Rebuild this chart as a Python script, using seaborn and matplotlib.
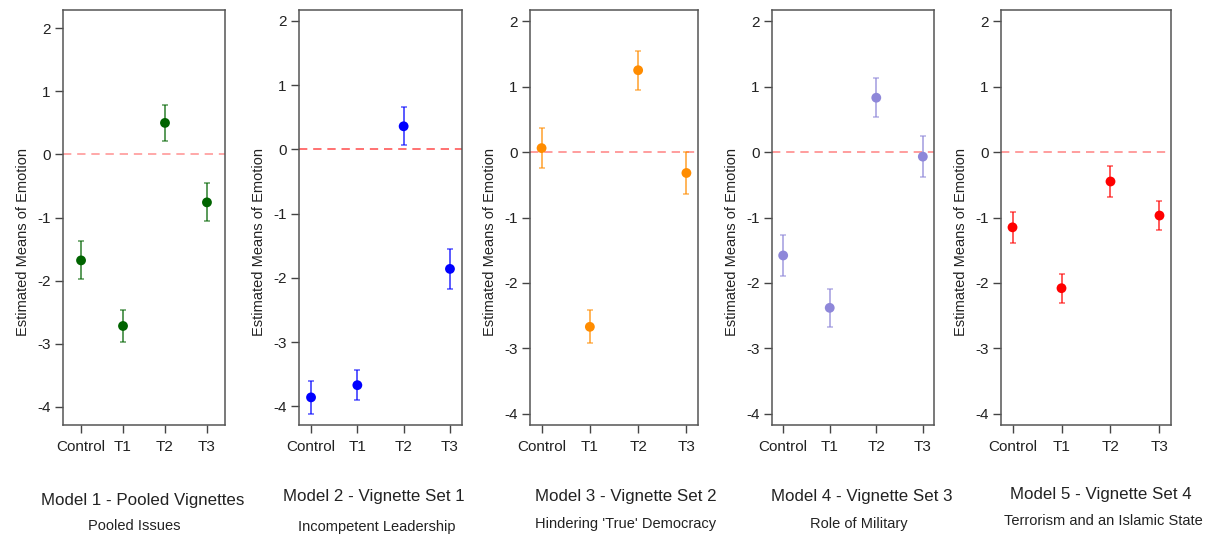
import numpy as np
import matplotlib
matplotlib.use("Agg")
import matplotlib.pyplot as plt
import seaborn as sns


conditions = ["Control", "T1", "T2", "T3"]

titles = ["Model 1 - Pooled Vignettes", "Model 2 - Vignette Set 1",
          "Model 3 - Vignette Set 2", "Model 4 - Vignette Set 3",
          "Model 5 - Vignette Set 4"]
subtitles = ["Pooled Issues", "Incompetent Leadership",
             "Hindering 'True' Democracy", "Role of Military",
             "Terrorism and an Islamic State"]

# estimated means and CI bounds
m1_mean = [-1.68, -2.72, 0.50, -0.76]
m1_low = [-1.98, -2.97, 0.21, -1.06]
m1_high = [-1.38, -2.46, 0.79, -0.45]

m2_mean = [-3.86, -3.67, 0.36, -1.86]
m2_low = [-4.12, -3.90, 0.07, -2.18]
m2_high = [-3.60, -3.43, 0.66, -1.55]

m3_mean = [0.06, -2.67, 1.25, -0.32]
m3_low = [-0.24, -2.92, 0.95, -0.64]
m3_high = [0.36, -2.42, 1.54, 0.00]

m4_mean = [-1.58, -2.38, 0.83, -0.07]
m4_low = [-1.89, -2.67, 0.53, -0.38]
m4_high = [-1.27, -2.09, 1.13, 0.25]

m5_mean = [-1.15, -2.08, -0.45, -0.97]
m5_low = [-1.39, -2.30, -0.69, -1.19]
m5_high = [-0.91, -1.86, -0.21, -0.75]

colors = ["#006400", "#0000FF", "#FF8C00", "#8E87D9", "#FF0000"]

models = [(m1_mean, m1_low, m1_high), (m2_mean, m2_low, m2_high),
          (m3_mean, m3_low, m3_high), (m4_mean, m4_low, m4_high),
          (m5_mean, m5_low, m5_high)]

W, H = 1213, 536
# axes boxes in pixels: left, right, top, bottom
boxes = [(63, 225, 10, 425), (299, 462, 10, 425), (530, 698, 10, 425),
         (772, 934, 10, 425), (1001, 1171, 10, 425)]
ylims = [(-4.29, 2.29), (-4.29, 2.17), (-4.17, 2.17), (-4.17, 2.17), (-4.17, 2.17)]
xpads = [0.43, 0.26, 0.24, 0.24, 0.235]
zero_alpha = [0.4, 0.65, 0.45, 0.45, 0.45]

title_pos = [(143, 500), (374, 497), (626, 497), (862, 497), (1101, 495)]
sub_pos = [(134, 526), (377, 527), (626, 524), (859, 524), (1103, 521)]

sns.set_style("white")
plt.rcParams['font.family'] = ['Liberation Sans', 'DejaVu Sans']

fig = plt.figure(figsize=(W / 100, H / 100), dpi=100)

for i, (mean, low, high) in enumerate(models):
    l, r, t, b = boxes[i]
    ax = fig.add_axes([l / W, 1 - b / H, (r - l) / W, (b - t) / H])
    mean = np.array(mean)
    yerr = np.vstack([mean - np.array(low), np.array(high) - mean])
    xs = np.arange(len(conditions))

    ax.axhline(0, color="red", alpha=zero_alpha[i], lw=1.2, ls=(0, (5, 3.5)), zorder=1)
    ax.errorbar(xs, mean, yerr=yerr, fmt="none", ecolor=colors[i], alpha=0.65,
                elinewidth=1.4, capsize=2.5, capthick=1.1, zorder=2)
    sns.scatterplot(x=xs, y=mean, color=colors[i], s=50, edgecolor="none",
                    ax=ax, zorder=3)

    ax.set_xlim(-xpads[i], 3 + xpads[i])
    ax.set_ylim(*ylims[i])
    ax.set_yticks([-4, -3, -2, -1, 0, 1, 2])
    ax.set_yticklabels(["-4", "-3", "-2", "-1", "0", "1", "2"])
    ax.set_xticks(xs)
    ax.set_xticklabels(conditions)
    ax.tick_params(axis="both", direction="out", length=6, width=1.0,
                   color="#444444", labelsize=11, labelcolor="#222222", pad=3,
                   left=True, bottom=True)
    ax.tick_params(axis="x", pad=5)
    for s in ax.spines.values():
        s.set_color("#555555")
        s.set_linewidth(1.1)
    ax.set_ylabel("Estimated Means of Emotion", fontsize=10.5, color="#222222",
                  labelpad=5, y=0.44)

    fig.text(title_pos[i][0] / W, 1 - title_pos[i][1] / H, titles[i],
             ha="center", va="center", fontsize=12.2, color="#222222")
    fig.text(sub_pos[i][0] / W, 1 - sub_pos[i][1] / H, subtitles[i],
             ha="center", va="center", fontsize=10.5, color="#222222")

fig.savefig("out.png", dpi=100)
